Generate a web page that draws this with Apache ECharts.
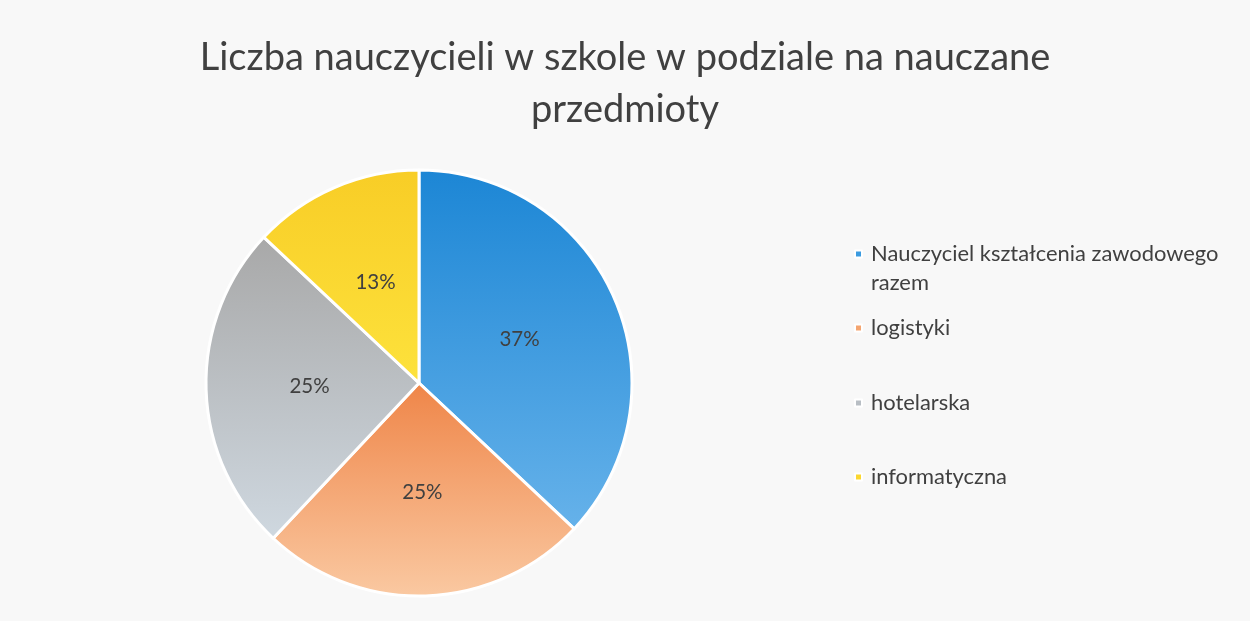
<!DOCTYPE html>
<html>
<head>
<meta charset="utf-8">
<script src="https://cdn.jsdelivr.net/npm/echarts@6/dist/echarts.min.js"></script>
<style>
  html, body { margin: 0; padding: 0; background: #f8f8f8; }
  #chart { width: 1250px; height: 621px; }
</style>
</head>
<body>
<div id="chart"></div>
<script>
// dane
const categories = ['Nauczyciel kształcenia zawodowego razem', 'logistyki', 'hotelarska', 'informatyczna'];
const values = [37, 25, 25, 13];

// kolory segmentów (góra -> dół gradientu)
const topColors = ['#1c86d5', '#ef8548', '#a8a8a8', '#f8cd26'];
const bottomColors = ['#66b2ea', '#fac9a2', '#cfd8e0', '#fde23c'];
const legendColors = ['#3b9be0', '#f4a570', '#b8bec4', '#fbd730'];

const chart = echarts.init(document.getElementById('chart'));

const font = 'Lato, "Open Sans", sans-serif';
const lineH = 29;
// środki kolejnych pozycji legendy (pierwsza linia)
const legendCenters = [254, 328, 403, 477];

const legends = categories.map((name, i) => ({
  data: [name],
  orient: 'vertical',
  left: 854,
  top: i === 0 ? legendCenters[i] - 1.5 * lineH : legendCenters[i] - lineH / 2,
  padding: 0,
  icon: 'rect',
  itemWidth: 7,
  itemHeight: 7,
  selectedMode: false,
  itemStyle: { color: legendColors[i] },
  formatter: n => n === categories[0] ? '\u00a0\nNauczyciel kształcenia zawodowego\nrazem' : n,
  textStyle: {
    fontFamily: font,
    fontSize: 21.9,
    color: '#404040',
    lineHeight: lineH,
    padding: [0, 0, 0, 4]
  }
}));

const option = {
  backgroundColor: '#f8f8f8',
  animation: false,
  title: {
    text: 'Liczba nauczycieli w szkole w podziale na nauczane\nprzedmioty',
    left: 'center',
    top: 32,
    padding: 0,
    textStyle: {
      fontFamily: font,
      fontSize: 38,
      fontWeight: 'normal',
      color: '#404040',
      lineHeight: 52
    }
  },
  legend: legends,
  series: [{
    type: 'pie',
    center: [419, 383],
    radius: 213,
    startAngle: 90,
    percentPrecision: 0,
    data: categories.map((name, i) => ({
      name: name,
      value: values[i],
      itemStyle: {
        color: new echarts.graphic.LinearGradient(0, 0, 0, 1, [
          { offset: 0, color: topColors[i] },
          { offset: 1, color: bottomColors[i] }
        ])
      }
    })),
    itemStyle: { borderColor: '#ffffff', borderWidth: 3 },
    label: {
      show: true,
      position: 'inside',
      formatter: '{d}%',
      fontFamily: font,
      fontSize: 20.5,
      color: '#404040'
    },
    labelLine: { show: false },
    emphasis: { disabled: true }
  }]
};

chart.setOption(option);
</script>
</body>
</html>
